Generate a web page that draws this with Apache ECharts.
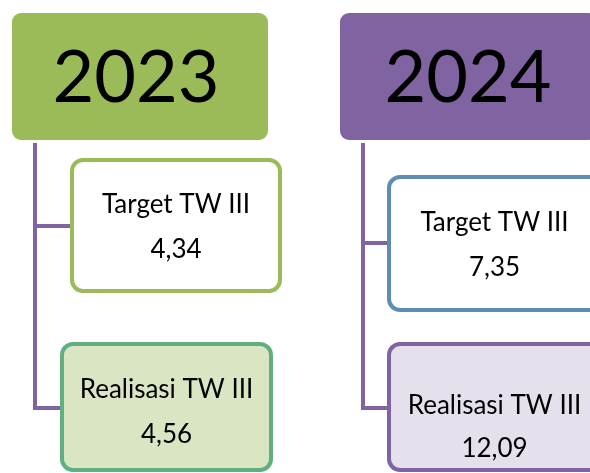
<!DOCTYPE html>
<html>
<head>
<meta charset="utf-8">
<script src="https://cdn.jsdelivr.net/npm/echarts@6/dist/echarts.min.js"></script>
<style>
  html, body { margin: 0; padding: 0; background: #fff; }
  #chart { width: 590px; height: 473px; }
</style>
</head>
<body>
<div id="chart"></div>
<script>
// data
const years = ['2023', '2024'];
const rowLabels = ['Target TW III', 'Realisasi TW III'];
const targetValues = [4.34, 7.35];
const realisasiValues = [4.56, 12.09];

// layout of the diagram (pixels), one entry per year
const layout = [
  {
    header: { rect: [12, 13, 256, 127], textX: 136 },
    trunkX: 35, trunkTop: 143,
    target: { rect: [72, 160, 208, 131], textY: [205, 250], branchY: 226 },
    real: { rect: [62, 344, 209, 126], textY: [390, 435], branchY: 408 }
  },
  {
    header: { rect: [340, 13, 257, 127], textX: 468 },
    trunkX: 363, trunkTop: 143,
    target: { rect: [389, 177, 211, 133], textY: [223, 268], branchY: 243 },
    real: { rect: [389, 344, 211, 126], textY: [406, 449], branchY: 408 }
  }
];

const headerColors = ['#9BBB59', '#8064A2'];
const targetBorder = ['#9BBB59', '#5F8DB0'];
const realBorder = ['#5FB07E', '#8064A2'];
const realFill = ['#D9E5C3', '#E5E0EC'];
const lineColor = '#8064A2';
const fontFamily = 'Lato, "Open Sans", sans-serif';

function fmt(v) {
  return v.toFixed(2).replace('.', ',');
}

// one data item per box: [yearIndex, kind] kind 0 = header, 1 = target, 2 = realisasi
const nodes = [];
years.forEach((y, i) => {
  nodes.push([i, 0], [i, 1], [i, 2]);
});

function renderItem(params, api) {
  const i = api.value(0);
  const kind = api.value(1);
  const l = layout[i];
  const children = [];

  if (kind === 0) {
    const r = l.header.rect;
    const lastBranch = l.real.branchY;
    // connector lines first so boxes sit on top
    children.push({
      type: 'polyline',
      shape: { points: [[l.trunkX, l.trunkTop], [l.trunkX, lastBranch], [l.real.rect[0], lastBranch]] },
      style: { stroke: lineColor, lineWidth: 4, fill: null }
    });
    children.push({
      type: 'line',
      shape: { x1: l.trunkX, y1: l.target.branchY, x2: l.target.rect[0], y2: l.target.branchY },
      style: { stroke: lineColor, lineWidth: 4 }
    });
    children.push({
      type: 'rect',
      shape: { x: r[0], y: r[1], width: r[2], height: r[3], r: 9 },
      style: { fill: headerColors[i] }
    });
    children.push({
      type: 'text',
      style: {
        x: l.header.textX, y: r[1] + r[3] / 2 + 2,
        text: years[i],
        textAlign: 'center', textVerticalAlign: 'middle',
        font: '72px ' + fontFamily, fill: '#000'
      }
    });
  } else {
    const box = kind === 1 ? l.target : l.real;
    const r = box.rect;
    const value = kind === 1 ? targetValues[i] : realisasiValues[i];
    children.push({
      type: 'rect',
      shape: { x: r[0], y: r[1], width: r[2], height: r[3], r: 11 },
      style: {
        fill: kind === 1 ? '#fff' : realFill[i],
        stroke: kind === 1 ? targetBorder[i] : realBorder[i],
        lineWidth: 4
      }
    });
    const cx = r[0] + r[2] / 2;
    [rowLabels[kind - 1], fmt(value)].forEach((t, k) => {
      children.push({
        type: 'text',
        style: {
          x: cx, y: box.textY[k],
          text: t,
          textAlign: 'center', textVerticalAlign: 'middle',
          font: '26px ' + fontFamily, fill: '#000'
        }
      });
    });
  }
  return { type: 'group', children: children };
}

const chart = echarts.init(document.getElementById('chart'));
chart.setOption({
  backgroundColor: '#fff',
  animation: false,
  series: [{
    type: 'custom',
    coordinateSystem: 'none',
    renderItem: renderItem,
    data: nodes
  }]
});
</script>
</body>
</html>
